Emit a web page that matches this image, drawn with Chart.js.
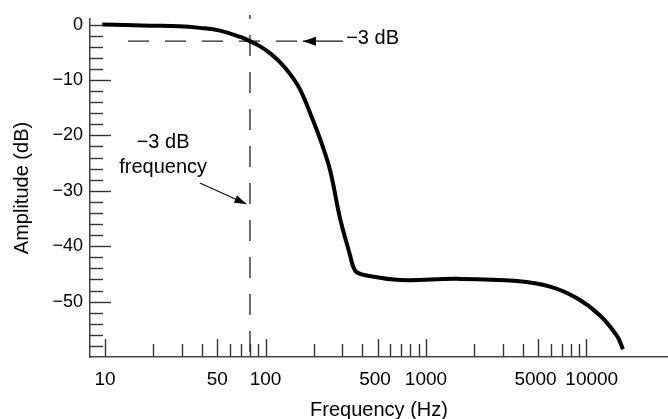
<!DOCTYPE html>
<html>
<head>
<meta charset="utf-8">
<script src="https://cdn.jsdelivr.net/npm/chart.js@4/dist/chart.umd.min.js"></script>
<style>
  html, body { margin: 0; padding: 0; background: #fff; }
  #wrap { width: 668px; height: 419px; }
</style>
</head>
<body>
<div id="wrap"><canvas id="c" width="668" height="419"></canvas></div>
<script>
// ---- data ----
const freqHz = [9.6, 19, 29, 39, 52, 69, 80, 92, 107, 123, 142, 164, 194, 224, 253, 291, 336, 352, 370, 427, 688, 1560, 3690, 5925, 8727, 12140, 15490, 16870];
const amplitudeDb = [0, -0.2, -0.3, -0.6, -1.1, -2.2, -3, -3.9, -5.2, -6.8, -8.9, -11.7, -16.7, -21.5, -26.4, -34.9, -41.6, -43.7, -44.7, -45.3, -46.1, -45.9, -46.3, -47.3, -49.4, -52.5, -56.2, -58.6];

// axis ticks / labels
const xLabelTicks = [10, 50, 100, 500, 1000, 5000, 10000];
const xLabelText = ['10', '50', '100', '500 ', '1000', '5000 ', '  10000'];
const xMinorTicks = [20, 30, 40, 60, 70, 80, 90, 200, 300, 400, 600, 700, 800, 900, 2000, 3000, 4000, 6000, 7000, 8000, 9000];
const yLabelTicks = [0, -10, -20, -30, -40, -50];
const yMinorTicks = [-2, -4, -6, -8, -12, -14, -16, -18, -22, -24, -26, -28, -32, -34, -36, -38, -42, -44, -46, -48, -52, -54, -56, -58];

// annotations (data units)
const cutoffFreq = 80;
const cutoffDb = -3;

const FONT = "'Liberation Sans', Arial, Helvetica, sans-serif";
const fmtDb = v => v === 0 ? '0' : '\u2212' + Math.abs(v);

const annotationPlugin = {
  id: 'annot',
  beforeDatasetsDraw(chart) {
    const ctx = chart.ctx, xs = chart.scales.x, ys = chart.scales.y;
    ctx.save();
    ctx.strokeStyle = '#222';
    ctx.lineWidth = 1.3;
    // vertical dashed line at cutoff frequency
    const vx = xs.getPixelForValue(cutoffFreq);
    ctx.setLineDash([21, 16]);
    ctx.lineDashOffset = 17;
    ctx.beginPath();
    ctx.moveTo(vx, ys.getPixelForValue(1.7));
    ctx.lineTo(vx, ys.bottom);
    ctx.stroke();
    // horizontal dashed line at -3 dB
    const hy = ys.getPixelForValue(cutoffDb);
    ctx.lineDashOffset = 0;
    ctx.beginPath();
    ctx.moveTo(xs.getPixelForValue(13.9), hy);
    ctx.lineTo(xs.getPixelForValue(159), hy);
    ctx.stroke();
    ctx.restore();
  },
  afterDraw(chart) {
    const ctx = chart.ctx, xs = chart.scales.x, ys = chart.scales.y;
    ctx.save();
    ctx.strokeStyle = '#333';
    ctx.lineWidth = 1.4;
    // x ticks (inward)
    const bottom = ys.bottom;
    const drawX = (v, len) => {
      const px = Math.round(xs.getPixelForValue(v)) + 0.5;
      ctx.beginPath(); ctx.moveTo(px, bottom); ctx.lineTo(px, bottom - len); ctx.stroke();
    };
    xLabelTicks.forEach(v => drawX(v, 18));
    xMinorTicks.forEach(v => drawX(v, 13));
    // y ticks (inward)
    const left = xs.left;
    const drawY = (v, len) => {
      const py = Math.round(ys.getPixelForValue(v)) + 0.5;
      ctx.beginPath(); ctx.moveTo(left, py); ctx.lineTo(left + len, py); ctx.stroke();
    };
    yLabelTicks.forEach(v => drawY(v, v === 0 ? 13 : 21));
    yMinorTicks.forEach(v => drawY(v, 13));

    // arrow helper
    const arrow = (x1, y1, x2, y2, head, half) => {
      ctx.beginPath(); ctx.moveTo(x1, y1); ctx.lineTo(x2, y2); ctx.stroke();
      const a = Math.atan2(y2 - y1, x2 - x1);
      ctx.beginPath();
      ctx.moveTo(x2, y2);
      ctx.lineTo(x2 - head * Math.cos(a) + half * Math.sin(a), y2 - head * Math.sin(a) - half * Math.cos(a));
      ctx.lineTo(x2 - head * Math.cos(a) - half * Math.sin(a), y2 - head * Math.sin(a) + half * Math.cos(a));
      ctx.closePath(); ctx.fill();
    };
    ctx.fillStyle = '#000';
    ctx.strokeStyle = '#111';
    ctx.lineWidth = 1.2;
    // -3 dB arrow (pointing left)
    const hy = ys.getPixelForValue(cutoffDb);
    arrow(xs.getPixelForValue(303), hy, xs.getPixelForValue(171), hy, 13, 4.5);
    // -3 dB frequency arrow
    arrow(xs.getPixelForValue(39), ys.getPixelForValue(-28.6), xs.getPixelForValue(76), ys.getPixelForValue(-32.4), 12, 4);

    // texts
    ctx.font = '20px ' + FONT;
    ctx.textBaseline = 'middle';
    ctx.textAlign = 'left';
    ctx.fillText('\u22123 dB', xs.getPixelForValue(318), hy - 3);
    ctx.textBaseline = 'alphabetic';
    ctx.textAlign = 'center';
    const tx = xs.getPixelForValue(23);
    ctx.fillText('\u22123 dB', tx, ys.getPixelForValue(-22.3));
    ctx.fillText('frequency', tx, ys.getPixelForValue(-26.8));
    ctx.restore();
  }
};

new Chart(document.getElementById('c'), {
  type: 'line',
  data: {
    datasets: [{
      data: freqHz.map((f, i) => ({ x: f, y: amplitudeDb[i] })),
      borderColor: '#000',
      borderWidth: 4,
      pointRadius: 0,
      fill: false,
      tension: 0.4
    }]
  },
  options: {
    responsive: false,
    animation: false,
    layout: { padding: { top: 19, left: 0, right: 0, bottom: 0 } },
    plugins: { legend: { display: false }, tooltip: { enabled: false } },
    scales: {
      x: {
        type: 'logarithmic',
        min: 8.06,
        max: 32200,
        afterBuildTicks: s => { s.ticks = xLabelTicks.map(v => ({ value: v })); },
        afterFit: s => { s.height = 62; },
        ticks: {
          autoSkip: false, maxRotation: 0, padding: 11,
          color: '#000', font: { family: FONT, size: 19 },
          callback: (v, i) => xLabelText[xLabelTicks.indexOf(v)] ?? String(v)
        },
        grid: { display: true, drawOnChartArea: false, drawTicks: false },
        border: { display: true, color: '#444', width: 1.5 },
        title: { display: true, text: 'Frequency (Hz)', color: '#000',
                 font: { family: FONT, size: 20, lineHeight: 0.85 }, padding: { top: 0, bottom: 0 } }
      },
      y: {
        type: 'linear',
        min: -60,
        max: 1,
        afterBuildTicks: s => { s.ticks = yLabelTicks.map(v => ({ value: v })); },
        afterFit: s => { s.width = 90; },
        ticks: {
          padding: 7, color: '#000', font: { family: FONT, size: 18 },
          callback: v => fmtDb(v)
        },
        grid: { display: true, drawOnChartArea: false, drawTicks: false },
        border: { display: true, color: '#444', width: 1.5 },
        title: { display: true, text: 'Amplitude (dB)', color: '#000',
                 font: { family: FONT, size: 20, lineHeight: 1.2 }, padding: { top: 10, bottom: 0 } }
      }
    }
  },
  plugins: [annotationPlugin]
});
</script>
</body>
</html>
